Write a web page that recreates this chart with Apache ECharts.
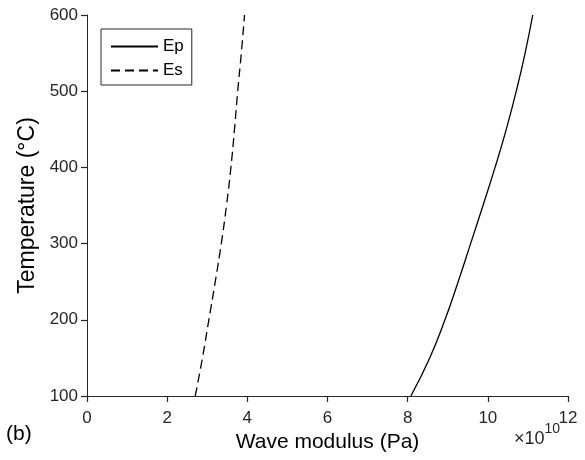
<!DOCTYPE html>
<html>
<head>
<meta charset="utf-8">
<script src="https://cdn.jsdelivr.net/npm/echarts@6/dist/echarts.min.js"></script>
<style>
  html, body { margin: 0; padding: 0; background: #fff; }
  #chart { width: 585px; height: 460px; }
</style>
</head>
<body>
<div id="chart"></div>
<script>
// Temperature levels (°C)
const temperature = [100, 150, 200, 250, 300, 350, 400, 450, 500, 550, 600];
// P-wave modulus, in units of 1e10 Pa
const ep = [8.08, 8.55, 8.93, 9.26, 9.57, 9.88, 10.18, 10.46, 10.71, 10.93, 11.12];
// S-wave modulus, in units of 1e10 Pa
const es = [2.70, 2.88, 3.04, 3.20, 3.35, 3.48, 3.59, 3.68, 3.76, 3.85, 3.93];
const xTicks = [0, 2, 4, 6, 8, 10, 12];
const yTicks = [100, 200, 300, 400, 500, 600];

const FONT = 'Liberation Sans, Arial, sans-serif';
const AXIS_COLOR = '#262626';

const chart = echarts.init(document.getElementById('chart'));

const pairs = (xs) => xs.map((x, i) => [x, temperature[i]]);

// Shared axis look: thin dark line with short ticks
const axisLine = { show: true, onZero: false, lineStyle: { color: AXIS_COLOR, width: 1 } };
const axisTick = {
  show: true, inside: false, length: 6, interval: 0,
  lineStyle: { color: AXIS_COLOR, width: 1.2, opacity: 1 }
};

chart.setOption({
  animation: false,
  backgroundColor: '#fff',
  grid: { left: 87, right: 17, top: 15, bottom: 64 },
  legend: {
    left: 101, top: 29,
    orient: 'vertical',
    backgroundColor: '#fff',
    borderColor: AXIS_COLOR, borderWidth: 1,
    padding: [9, 8, 6, 9],
    itemGap: 7,
    itemWidth: 47, itemHeight: 14,
    itemStyle: { color: 'transparent', borderColor: 'transparent', borderWidth: 0 },
    textStyle: { fontFamily: FONT, fontSize: 17, color: '#000' },
    data: ['Ep', 'Es']
  },
  xAxis: {
    type: 'value', min: 0, max: 12, interval: 2,
    name: 'Wave modulus (Pa)',
    nameLocation: 'middle', nameGap: 23,
    nameTextStyle: { fontFamily: FONT, fontSize: 21, color: '#000' },
    axisLine, axisTick: { ...axisTick },
    axisLabel: {
      show: true, fontFamily: FONT, fontSize: 17, color: AXIS_COLOR, margin: 14,
      formatter: (v) => xTicks.includes(v) ? String(v) : ''
    },
    splitLine: { show: false }
  },
  yAxis: {
    type: 'value', min: 100, max: 600, interval: 100,
    name: 'Temperature (°C)',
    nameLocation: 'middle', nameGap: 42,
    nameTextStyle: { fontFamily: FONT, fontSize: 23, color: '#000' },
    axisLine, axisTick: { ...axisTick },
    axisLabel: {
      show: true, fontFamily: FONT, fontSize: 17, color: AXIS_COLOR, margin: 9,
      formatter: (v) => yTicks.includes(v) ? String(v) : ''
    },
    splitLine: { show: false }
  },
  series: [
    {
      name: 'Ep', type: 'line', data: pairs(ep), smooth: true,
      symbol: 'none', clip: true,
      lineStyle: { color: '#000', width: 1.3, type: 'solid' },
      itemStyle: { color: '#000' }
    },
    {
      name: 'Es', type: 'line', data: pairs(es), smooth: true,
      symbol: 'none', clip: true,
      lineStyle: { color: '#000', width: 1.3, type: [9, 5] },
      itemStyle: { color: '#000' }
    }
  ],
  graphic: [
    {
      type: 'text', left: 6, top: 424,
      style: { text: '(b)', fontFamily: FONT, fontSize: 21, fill: '#000' }
    },
    {
      type: 'text', left: 514, top: 422,
      style: {
        text: '{a|×10}{b|10}',
        rich: {
          a: { fontFamily: FONT, fontSize: 18, fill: AXIS_COLOR, padding: [8, 0, 0, 0] },
          b: { fontFamily: FONT, fontSize: 14, fill: AXIS_COLOR, verticalAlign: 'top' }
        }
      }
    }
  ]
});
</script>
</body>
</html>
